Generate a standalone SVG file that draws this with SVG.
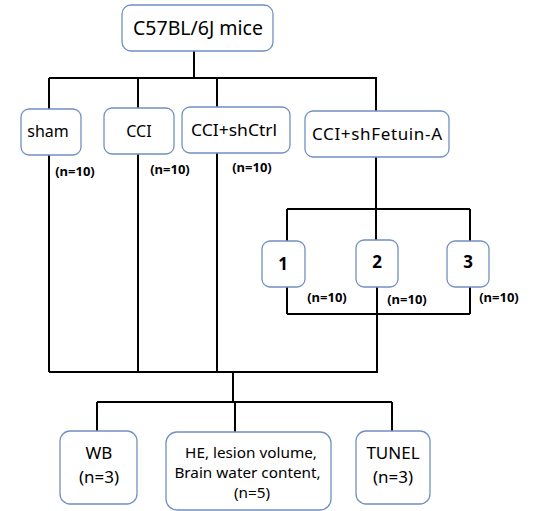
<svg xmlns="http://www.w3.org/2000/svg" width="542" height="511" viewBox="0 0 542 511">
<style>
.box{fill:#fff;stroke:#7290c2;stroke-width:1.3}
.ln{fill:none;stroke:#000;stroke-width:2}
.t{font-family:"Noto Sans","Open Sans","Liberation Sans",sans-serif;fill:#000;text-anchor:middle}
.n{font-size:13px;font-weight:bold}
.b{font-weight:bold}
</style>
<rect width="542" height="511" fill="#fff"/>
<g id="connectors">
<path class="ln" d="M194 51V78M49 78H377M49 78V109M138 78V108M217 78V107M376 78V111"/>
<path class="ln" d="M49 155V372M138 154V372M217 153V372M376 157V241"/>
<path class="ln" d="M287 209H470M287 209V241M470 209V241"/>
<path class="ln" d="M287 287V314M377 287V373M470 287V314M287 314H470"/>
<path class="ln" d="M49 372H378M233 372V402M97 402H392M97 402V431M235 402V432M392 402V431"/>
</g>
<g id="node-mice"><rect class="box" x="122" y="5" width="151" height="46" rx="9"/><text class="t" x="198" y="35" font-size="19.5">C57BL/6J mice</text></g>
<g id="node-sham"><rect class="box" x="21" y="109" width="60" height="46" rx="8"/><text class="t" x="48" y="137" font-size="16">sham</text></g>
<g id="node-cci"><rect class="box" x="104" y="108" width="70" height="46" rx="8"/><text class="t" x="139" y="137" font-size="16">CCI</text></g>
<g id="node-shctrl"><rect class="box" x="182" y="107" width="108" height="46" rx="8"/><text class="t" x="234" y="136" font-size="16.5" textLength="86" lengthAdjust="spacingAndGlyphs">CCI+shCtrl</text></g>
<g id="node-shfetuin"><rect class="box" x="305" y="111" width="144" height="46" rx="8"/><text class="t" x="377" y="140" font-size="17" textLength="130" lengthAdjust="spacing">CCI+shFetuin-A</text></g>
<g id="labels-n">
<text class="t n" x="75" y="176">(n=10)</text>
<text class="t n" x="170" y="174">(n=10)</text>
<text class="t n" x="252" y="172">(n=10)</text>
<text class="t n" x="327" y="302">(n=10)</text>
<text class="t n" x="407" y="304">(n=10)</text>
<text class="t n" x="499" y="302">(n=10)</text>
</g>
<g id="node-1"><rect class="box" x="262" y="241" width="43" height="46" rx="8"/><text class="t b" x="283" y="270" font-size="17">1</text></g>
<g id="node-2"><rect class="box" x="356" y="240" width="42" height="47" rx="8"/><text class="t b" x="377" y="268" font-size="17">2</text></g>
<g id="node-3"><rect class="box" x="447" y="241" width="42" height="46" rx="8"/><text class="t b" x="468" y="268" font-size="17">3</text></g>
<g id="node-wb"><rect class="box" x="60" y="431" width="77" height="73" rx="10"/><text class="t" x="99" y="459" font-size="17">WB</text><text class="t" x="99" y="483" font-size="17">(n=3)</text></g>
<g id="node-he"><rect class="box" x="166" y="432" width="165" height="78" rx="11"/><text class="t" x="251" y="458" font-size="15.3">HE, lesion volume,</text><text class="t" x="247.5" y="478" font-size="15.3">Brain water content,</text><text class="t" x="252" y="498" font-size="15.3">(n=5)</text></g>
<g id="node-tunel"><rect class="box" x="356" y="431" width="74" height="73" rx="10"/><text class="t" x="393" y="459" font-size="17">TUNEL</text><text class="t" x="393" y="483" font-size="17">(n=3)</text></g>
</svg>
